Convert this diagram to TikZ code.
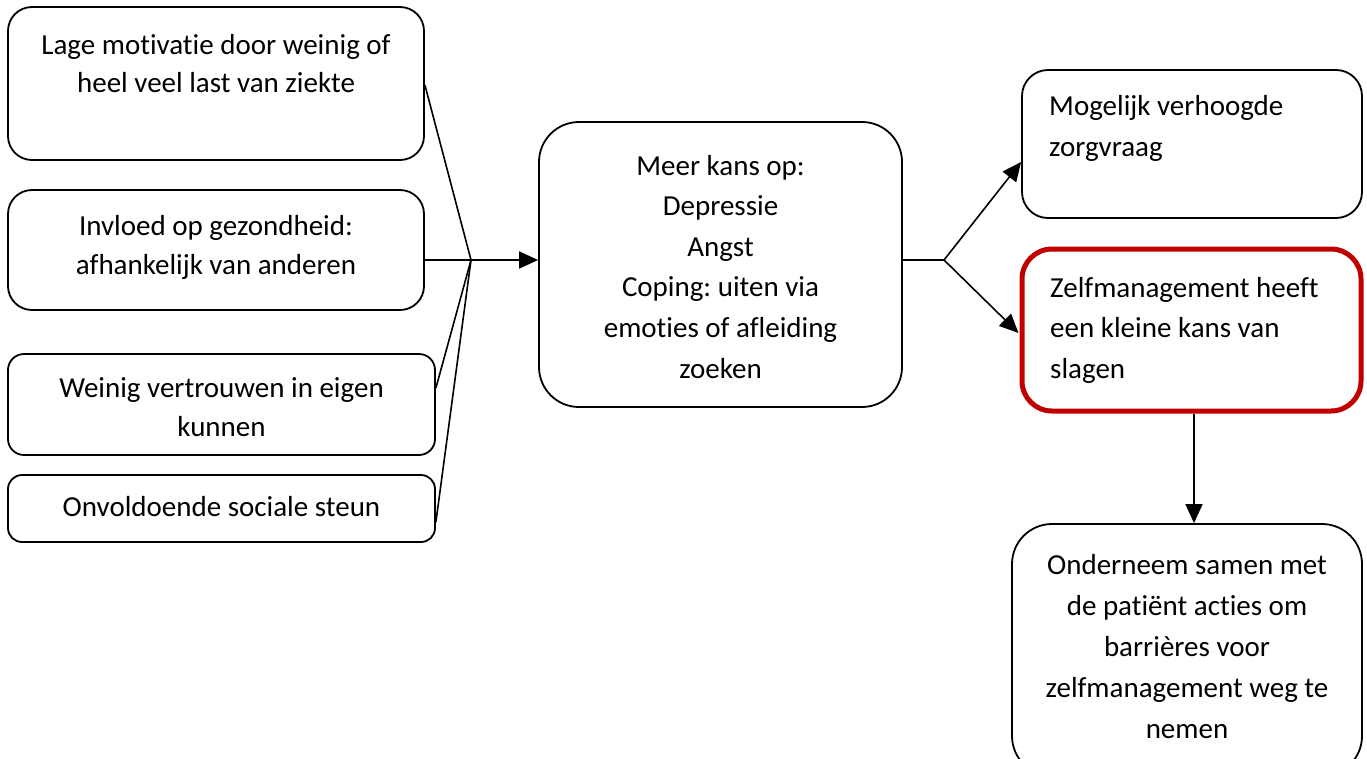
\documentclass[tikz,border=0pt]{standalone}
\usepackage{fontspec}
\setmainfont{Carlito}[Ligatures={NoCommon,NoContextual}]
\frenchspacing
\usetikzlibrary{arrows.meta,calc}
\definecolor{boxred}{RGB}{192,0,0}
\tikzset{
  box/.style={draw=black, line width=1.8pt, fill=white, inner sep=0pt, rounded corners=#1},
  box/.default=24pt,
  txt/.style={inner sep=0pt, align=center, font=\fontsize{29}{#1}\selectfont},
  txt/.default=40,
  conn/.style={line width=1.6pt, draw=black},
  arr/.style={conn, -{Triangle[length=19pt,width=17pt]}}
}
\begin{document}
\begin{tikzpicture}[x=1pt,y=-1pt]
\useasboundingbox (0,0) rectangle (1367,758);
% boxes
\node[box, minimum width=416pt, minimum height=153pt] (b1) at (216,83.5) {};
\node[box, minimum width=416pt, minimum height=120pt] (b2) at (216,250) {};
\node[box=16pt, minimum width=427pt, minimum height=101pt] (b3) at (221.5,404.5) {};
\node[box=14pt, minimum width=427pt, minimum height=67pt] (b4) at (221.5,508.5) {};
\node[box=40pt, minimum width=363pt, minimum height=285pt] (c) at (720.5,264.5) {};
\node[box=26pt, minimum width=340pt, minimum height=148pt] (m) at (1192,144) {};
\node[box=30pt, draw=boxred, line width=5pt, minimum width=339pt, minimum height=162pt] (r) at (1191.5,330) {};
\node[box=40pt, minimum width=350pt, minimum height=252pt] (o) at (1187,650) {};
% texts
\node[txt=38] (t1) at (216,66) {\strut Lage motivatie door weinig of\\\strut heel veel last van ziekte};
\node[txt=39] (t2) at (216,247) {\strut Invloed op gezondheid:\\\strut afhankelijk van anderen};
\node[txt=39] (t3) at (221.5,409) {\strut Weinig vertrouwen in eigen\\\strut kunnen};
\node[txt] (t4) at (221.5,508) {\strut Onvoldoende sociale steun};
\node[txt=40.6] (tc) at (720.5,268.5) {\strut Meer kans op:\\\strut Depressie\\\strut Angst\\\strut Coping: uiten via\\\strut emoties of afleiding\\\strut zoeken};
\node[txt=41, align=left, anchor=west] (tm) at (1049,127.5) {\strut Mogelijk verhoogde\\\strut zorgvraag};
\node[txt=40.5, align=left, anchor=west] (tr) at (1050,329.5) {\strut Zelfmanagement heeft\\\strut een kleine kans van\\\strut slagen};
\node[txt=41] (to) at (1187,648) {\strut Onderneem samen met\\\strut de patiënt acties om\\\strut barrières voor\\\strut zelfmanagement weg te\\\strut nemen};
% junctions
\coordinate (J) at (471,260);
\coordinate (K) at (944,260);
\coordinate (rs) at ($(r.south)+(2.5,0)$);
% connectors
\draw[conn] ($(b1.east)+(0,1.5)$) -- (J);
\draw[conn] (b2.east |- J) -- (J);
\draw[conn] ($(b3.east)+(0,-16.5)$) -- (J);
\draw[conn] ($(b4.east)+(0,13.5)$) -- (J);
\draw[arr] (J) -- (J -| c.west);
\draw[conn] (c.east |- K) -- (K);
\draw[arr] (K) -- ($(m.west)+(0,18)$);
\draw[arr] (K) -- ($(r.west)+(-1,3)$);
\draw[arr] (rs) -- (rs |- o.north);
\end{tikzpicture}
\end{document}
